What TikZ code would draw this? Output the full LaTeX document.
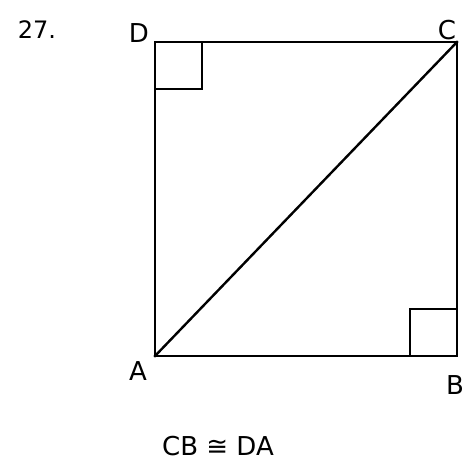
\documentclass[tikz,border=0pt]{standalone}
\usepackage{fontspec}
\setmainfont{DejaVu Sans}
\begin{document}
\begin{tikzpicture}[x=1pt,y=-1pt,
  edge/.style={line width=2.4pt,line cap=rect},
  lbl/.style={font=\fontsize{26}{30}\selectfont,inner sep=0pt},
  numlbl/.style={font=\fontsize{24}{28}\selectfont,inner sep=0pt}]
\useasboundingbox (0,0) rectangle (469,464);
\coordinate (A) at (155,356);
\coordinate (B) at (457,356);
\coordinate (C) at (457,42);
\coordinate (D) at (155,42);
\draw[edge] (A) -- (B) -- (C) -- (D) -- cycle;
\draw[edge] (A) -- (C);
\draw[line width=2.4pt] (155,89) -- (202,89) -- (202,42);
\draw[line width=2.4pt] (410,356) -- (410,309) -- (457,309);
\node[numlbl] (n27) at (37,30) {27.};
\node[lbl] (lD) at (139,33) {D};
\node[lbl] (lC) at (447,30) {C};
\node[lbl] (lA) at (138,371) {A};
\node[lbl] (lB) at (455,385) {B};
\node[lbl] (eq) at (218,446) {CB ≅ DA};
\end{tikzpicture}
\end{document}
